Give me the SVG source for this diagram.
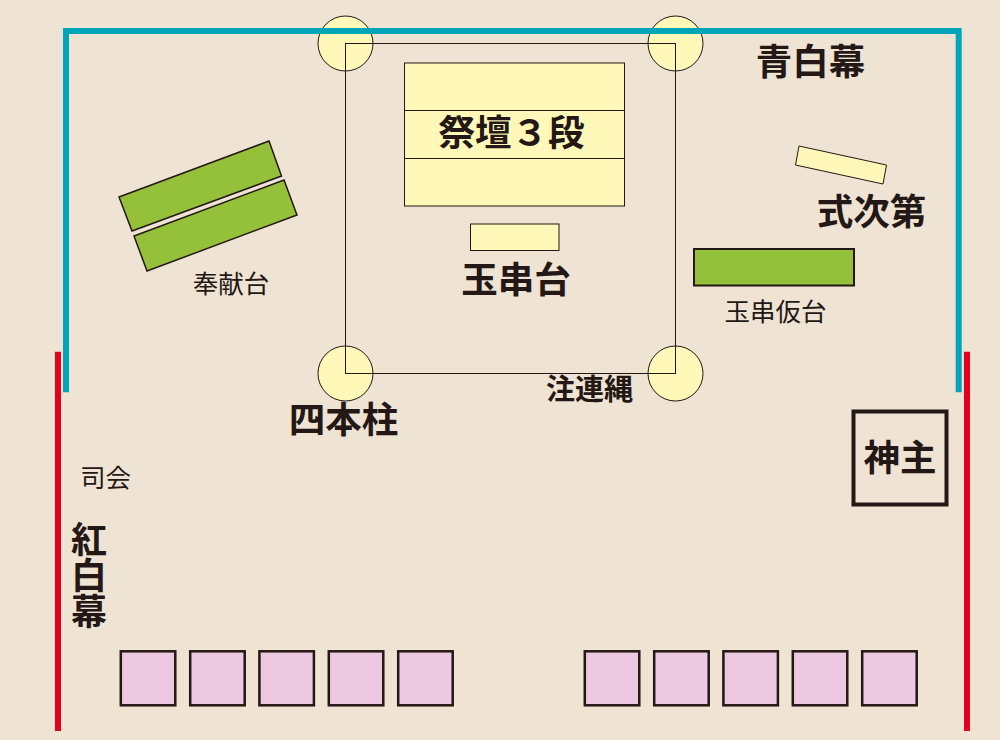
<svg xmlns="http://www.w3.org/2000/svg" width="1000" height="740" viewBox="0 0 1000 740">
<style>
.y{fill:#fff8b8;stroke:#231815;stroke-width:1}
.g{fill:#94c139;stroke:#231815;stroke-width:1.5}
.p{fill:#ecc9e0;stroke:#231815;stroke-width:2.5}
text{font-family:"Noto Sans CJK JP",sans-serif;fill:#231815}
.b{font-weight:700;text-anchor:middle;font-size:36.500px}
.n{font-weight:400;text-anchor:middle;font-size:25.500px}
</style>
<rect width="1000" height="740" fill="#efe3d3"/>
<g id="pillars">
<circle class="y" cx="345.500" cy="43.500" r="27.500"/>
<circle class="y" cx="675.500" cy="43.500" r="27.500"/>
<circle class="y" cx="345.500" cy="373.500" r="27.500"/>
<circle class="y" cx="675.500" cy="373.500" r="27.500"/>
</g>
<g id="connectors">
<path d="M66 392.300V31H958.700V392.300" fill="none" stroke="#00a6b8" stroke-width="6"/>
<path d="M58 351.700V731M967 351.700V731" fill="none" stroke="#e60020" stroke-width="6"/>
<rect x="345.500" y="43.500" width="330" height="330" fill="none" stroke="#231815" stroke-width="1"/>
</g>
<g id="altar">
<rect class="y" x="404.500" y="63" width="220" height="143"/>
<path d="M404.500 110.500H624.500M404.500 158.500H624.500" stroke="#231815" stroke-width="1"/>
<text class="b" x="511.500" y="146">祭壇３段</text>
</g>
<g id="tamagushi-dai">
<rect class="y" x="470.500" y="224" width="88.500" height="26.500"/>
<text class="b" x="516" y="293">玉串台</text>
</g>
<g id="hoken-dai">
<polygon class="g" points="119,197 269,141 281.500,176 132,231"/>
<polygon class="g" points="134,236 284,180 297,215 147,271"/>
<text class="n" x="231" y="293">奉献台</text>
</g>
<g id="shikishidai">
<polygon class="y" points="799,146 886.500,165 883,184 795.500,165"/>
<text class="b" x="871.500" y="225">式次第</text>
</g>
<g id="karidai">
<rect class="g" x="694" y="249" width="160" height="36.500" stroke-width="2" style="stroke-width:2"/>
<text class="n" x="775.500" y="321">玉串仮台</text>
</g>
<g id="labels">
<text class="b" x="810.500" y="75">青白幕</text>
<text class="b" x="343.500" y="433">四本柱</text>
<text class="b" x="589.500" y="400" style="font-size:29px">注連縄</text>
<text class="n" x="105.500" y="487">司会</text>
<text x="89" y="521" font-size="36" font-weight="700" writing-mode="vertical-rl">紅白幕</text>
</g>
<g id="kannushi">
<rect x="853.500" y="411.500" width="93" height="93" fill="none" stroke="#231815" stroke-width="4"/>
<text class="b" x="900" y="471">神主</text>
</g>
<g id="seats">
<rect class="p" x="120.800" y="651.300" width="54.500" height="54"/>
<rect class="p" x="190.200" y="651.300" width="54.500" height="54"/>
<rect class="p" x="259.400" y="651.300" width="54.500" height="54"/>
<rect class="p" x="328.800" y="651.300" width="54.500" height="54"/>
<rect class="p" x="398.200" y="651.300" width="54.500" height="54"/>
<rect class="p" x="584.800" y="651.300" width="54.500" height="54"/>
<rect class="p" x="654.200" y="651.300" width="54.500" height="54"/>
<rect class="p" x="723.400" y="651.300" width="54.500" height="54"/>
<rect class="p" x="792.800" y="651.300" width="54.500" height="54"/>
<rect class="p" x="862.200" y="651.300" width="54.500" height="54"/>
</g>
</svg>
